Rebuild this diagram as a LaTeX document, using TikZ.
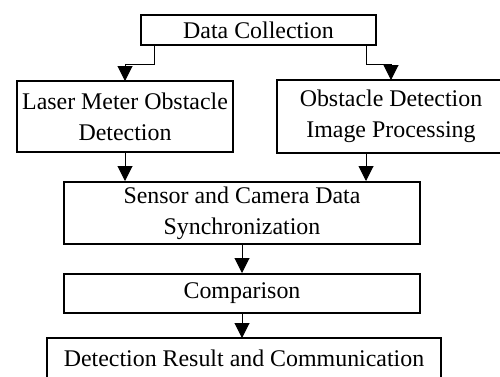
\documentclass[tikz,border=0pt]{standalone}
\usepackage{fontspec}
\setmainfont{Liberation Serif}
\usetikzlibrary{arrows.meta}
\begin{document}
\begin{tikzpicture}[x=1pt,y=-1pt,
  txt/.style={inner sep=0pt, align=center, font=\fontsize{23.9}{31}\selectfont},
  box/.style={txt, draw=black, line width=2pt},
  openbox/.style={txt, line width=2pt},
  edge/.style={draw=black, line width=2pt, line join=miter},
  arr/.style={draw=black, line width=1pt, -{Triangle[length=15pt,width=15pt]}}]
\useasboundingbox (0,0) rectangle (500,376);
\clip (0,0) rectangle (500,376);
\node[box, minimum width=235pt, minimum height=30pt] (dc) at (258.5,30) {Data Collection};
\node[box, minimum width=216pt, minimum height=71pt] (laser) at (125,116.5) {Laser Meter Obstacle\\Detection};
\node[openbox, minimum width=226pt, minimum height=71pt] (obst) at (391,116.5) {Obstacle Detection\\Image Processing};
\node[box, minimum width=356pt, minimum height=62pt] (sensor) at (242,213) {Sensor and Camera Data\\Synchronization};
\node[box, minimum width=356pt, minimum height=39pt] (comp) at (242,293.5) {Comparison};
\node[openbox, minimum width=392pt, minimum height=38pt] (result) at (244,358) {Detection Result and Communication};
\draw[edge] ([xshift=30pt]obst.north east) -- (obst.north west) -- (obst.south west) -- ([xshift=30pt]obst.south east);
\draw[edge] ([yshift=-30pt]result.south west) -- (result.north west) -- (result.north east) -- ([yshift=-30pt]result.south east);
\draw[arr] ([xshift=14pt]dc.south west) |- ([yshift=16pt]laser.north) -- ([yshift=-1pt]laser.north);
\draw[arr] ([xshift=-11pt]dc.south east) |- ([yshift=16pt]obst.north) -- (obst.north);
\draw[arr] (laser.south) -- (laser.south |- sensor.north);
\draw[arr] ([xshift=-25pt]obst.south) -- ([xshift=-25pt]obst.south |- sensor.north);
\draw[arr] (sensor.south) -- (comp.north);
\draw[arr] (comp.south) -- (comp.south |- result.north);
\end{tikzpicture}
\end{document}
